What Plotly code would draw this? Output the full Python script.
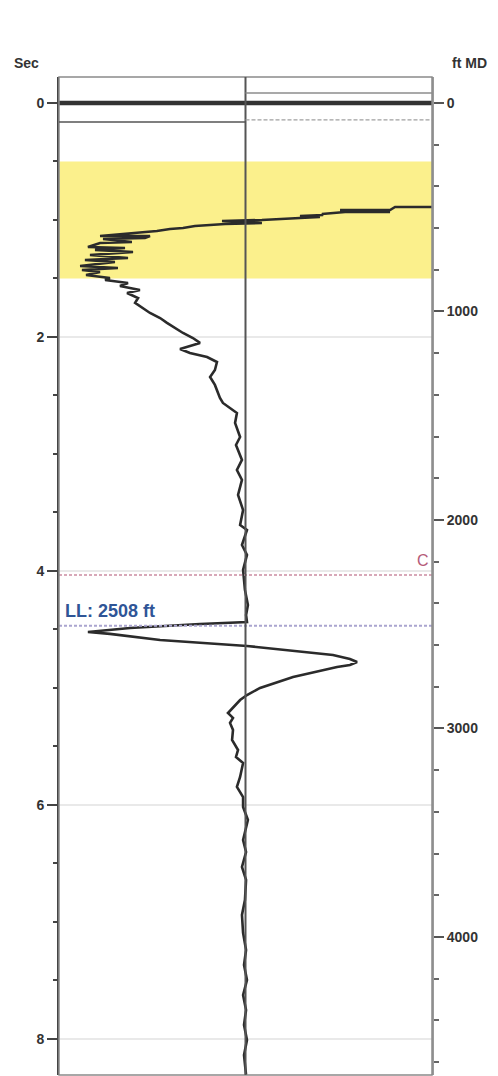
import plotly.graph_objects as go

# ---------------- data ----------------
FT_PER_SEC = 561.2                      # depth/time relation of the two axes
sec_range = [8.308, -0.222]             # visible time window (reversed)
sec_ticks = [0, 2, 4, 6, 8]
ft_ticks = [0, 1000, 2000, 3000, 4000]

zone_sec = [0.5, 1.5]                   # highlighted (yellow) zone

pulse_t = [0.0, 0.0]                    # firing pulse at t = 0
pulse_amp = [-1.0, 1.0]

trace_t = [0.02, 0.885, 0.889, 0.889, 0.915, 0.915, 0.932, 0.932, 0.949, 0.957,
           0.966, 0.974, 0.983, 1.000, 1.009, 1.026, 1.034, 1.043, 1.051, 1.068,
           1.077, 1.094, 1.120, 1.137, 1.137, 1.154, 1.162, 1.188, 1.197, 1.231,
           1.239, 1.256, 1.274, 1.299, 1.325, 1.342, 1.359, 1.393, 1.410, 1.427,
           1.444, 1.470, 1.496, 1.513, 1.538, 1.564, 1.598, 1.624, 1.667, 1.709,
           1.795, 1.838, 1.880, 1.923, 1.966, 2.009, 2.051, 2.103, 2.137, 2.171,
           2.214, 2.282, 2.342, 2.410, 2.453, 2.521, 2.564, 2.650, 2.735, 2.855,
           2.923, 3.051, 3.137, 3.222, 3.350, 3.479, 3.607, 3.650, 3.778, 3.863,
           3.991, 4.162, 4.291, 4.376, 4.436, 4.453, 4.487, 4.521, 4.538, 4.590,
           4.641, 4.684, 4.718, 4.752, 4.778, 4.803, 4.821, 4.906, 5.000, 5.060,
           5.103, 5.214, 5.256, 5.299, 5.359, 5.444, 5.530, 5.590, 5.641, 5.761,
           5.846, 5.932, 6.017, 6.128, 6.299, 6.402, 6.530, 6.641, 6.812, 6.940,
           7.094, 7.239, 7.368, 7.496, 7.624, 7.752, 7.880, 8.009, 8.137, 8.308]
trace_amp = [1.40, 1.40, 0.990, 0.802, 0.775, 0.507, 0.775, 0.534, 0.410, 0.416,
             0.292, 0.399, 0.292, 0.088, -0.126, 0.088, -0.110, -0.190, -0.271, -0.335,
             -0.405, -0.475, -0.673, -0.780, -0.512, -0.539, -0.764, -0.609, -0.780, -0.845,
             -0.646, -0.807, -0.603, -0.834, -0.630, -0.861, -0.700, -0.887, -0.684, -0.877,
             -0.780, -0.855, -0.727, -0.753, -0.630, -0.673, -0.566, -0.635, -0.576, -0.592,
             -0.512, -0.458, -0.421, -0.378, -0.335, -0.282, -0.244, -0.351, -0.298, -0.206,
             -0.153, -0.164, -0.190, -0.164, -0.153, -0.137, -0.121, -0.046, -0.056, -0.029,
             -0.051, -0.019, -0.046, -0.019, -0.040, -0.013, -0.029, 0.008, -0.019, 0.008,
             -0.013, -0.003, 0.013, 0.003, 0.008, -0.244, -0.619, -0.845, -0.727, -0.458,
             0.008, 0.255, 0.469, 0.560, 0.598, 0.560, 0.491, 0.255, 0.078, 0.008,
             -0.029, -0.094, -0.067, -0.083, -0.067, -0.072, -0.040, -0.051, -0.013, -0.029,
             -0.046, -0.013, -0.013, 0.013, -0.013, 0.003, -0.019, 0.003, -0.003, -0.019,
             -0.013, 0.003, -0.008, 0.008, -0.013, 0.003, -0.008, 0.008, -0.008, 0.003]

ll_ft = 2508
ll_label = "LL: 2508 ft"
c_ft = 2264
c_label = "C"

# ---------------- figure ----------------
fig = go.Figure()

fig.add_trace(go.Scatter(x=trace_amp, y=trace_t, mode="lines",
                         line=dict(color="#2b2b2b", width=2.6),
                         hoverinfo="skip", showlegend=False))
fig.add_trace(go.Scatter(x=pulse_amp, y=pulse_t, mode="lines",
                         line=dict(color="#333333", width=4.5),
                         hoverinfo="skip", showlegend=False))
# marker lines on the depth axis
fig.add_trace(go.Scatter(x=[-1, 1], y=[c_ft, c_ft], yaxis="y2", mode="lines",
                         line=dict(color="#d8a8b8", width=2, dash="3px,2px"),
                         hoverinfo="skip", showlegend=False))
fig.add_trace(go.Scatter(x=[-1, 1], y=[ll_ft, ll_ft], yaxis="y2", mode="lines",
                         line=dict(color="#aaa5cf", width=2, dash="3px,2px"),
                         hoverinfo="skip", showlegend=False))

tick_font = dict(family="Liberation Sans, Arial, sans-serif", size=14,
                 color="#333333", weight="bold")

fig.update_layout(
    width=498, height=1076,
    margin=dict(l=59, r=66, t=77, b=1),
    paper_bgcolor="white", plot_bgcolor="white",
    xaxis=dict(range=[-1, 1], visible=False, fixedrange=True),
    yaxis=dict(range=sec_range, tickvals=sec_ticks, ticks="outside",
               ticklen=10, tickwidth=2, tickcolor="#444444",
               showline=True, linecolor="#444444", linewidth=2,
               showgrid=True, gridcolor="#e9e9e9", gridwidth=1.5,
               zeroline=False, tickfont=tick_font,
               minor=dict(dtick=0.5, ticks="outside", ticklen=4,
                          tickcolor="#444444", tickwidth=2, showgrid=False)),
    yaxis2=dict(range=[sec_range[0] * FT_PER_SEC, sec_range[1] * FT_PER_SEC],
                overlaying="y", side="right", tickvals=ft_ticks,
                ticks="outside", ticklen=10, tickwidth=2, tickcolor="#555555",
                showline=True, linecolor="#9a9a9a", linewidth=2,
                showgrid=False, zeroline=False, tickfont=tick_font,
                minor=dict(dtick=200, ticks="outside", ticklen=5,
                           tickcolor="#666666", tickwidth=2, showgrid=False)),
)

# highlighted zone
fig.add_shape(type="rect", xref="x", yref="y", x0=-1, x1=1,
              y0=zone_sec[0], y1=zone_sec[1], fillcolor="#fbf08c",
              line=dict(width=0), layer="below")
# frame
fig.add_shape(type="rect", xref="paper", yref="paper", x0=0, x1=1, y0=0, y1=1,
              line=dict(color="#8a8a8a", width=1.5), layer="above")
# centre line
fig.add_shape(type="line", xref="x", yref="paper", x0=0, x1=0, y0=0, y1=1,
              line=dict(color="#555555", width=2), layer="above")
# header decoration lines
fig.add_shape(type="line", xref="x", yref="y", x0=0, x1=1, y0=-0.085, y1=-0.085,
              line=dict(color="#8c8c8c", width=1.5))
fig.add_shape(type="line", xref="x", yref="y", x0=-1, x1=0, y0=0.162, y1=0.162,
              line=dict(color="#555555", width=1.5))
fig.add_shape(type="line", xref="x", yref="y", x0=0, x1=1, y0=0.145, y1=0.145,
              line=dict(color="#a0a0a0", width=1.2, dash="4px,2px"))

# texts
fig.add_annotation(text="<b>Sec</b>", xref="paper", yref="paper",
                   x=-0.086, y=1.014, showarrow=False, xanchor="center", yanchor="middle",
                   font=dict(family="Liberation Sans, Arial, sans-serif", size=14, color="#333333"))
fig.add_annotation(text="<b>ft MD</b>", xref="paper", yref="paper",
                   x=1.10, y=1.014, showarrow=False, xanchor="center", yanchor="middle",
                   font=dict(family="Liberation Sans, Arial, sans-serif", size=14, color="#333333"))
fig.add_annotation(text=c_label, xref="paper", yref="y2",
                   x=0.975, y=c_ft, yshift=14, showarrow=False,
                   xanchor="center", yanchor="middle",
                   font=dict(family="Liberation Sans, Arial, sans-serif", size=16, color="#b55a78"))
fig.add_annotation(text="<b>" + ll_label + "</b>", xref="paper", yref="y2",
                   x=0.01, y=ll_ft, yshift=15, showarrow=False,
                   xanchor="left", yanchor="middle",
                   font=dict(family="Liberation Sans, Arial, sans-serif", size=18, color="#2f5597"))

fig.write_html("out.html", config={"displayModeBar": False},
               post_script="document.body.style.margin='0';document.body.style.overflow='hidden';")
